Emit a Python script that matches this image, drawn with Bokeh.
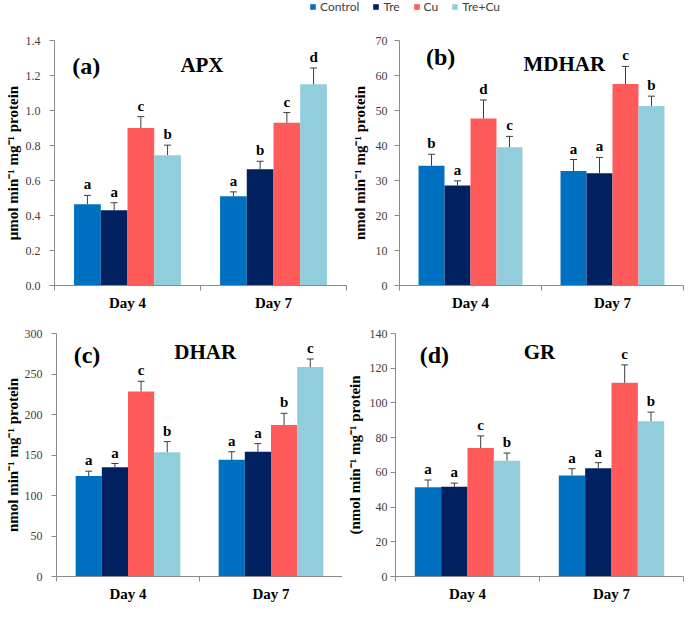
from bokeh.plotting import figure
from bokeh.models import (ColumnDataSource, Range1d, FixedTicker, Whisker, TeeHead,
                          Label, Legend, LegendItem, NumeralTickFormatter)
from bokeh.layouts import column, row
from bokeh.embed import file_html
from bokeh.resources import INLINE
from bokeh.core.properties import value

# ---------------- data ----------------
days = ["Day 4", "Day 7"]
treatments = ["Control", "Tre", "Cu", "Tre+Cu"]
colors = ["#0070C0", "#002060", "#FF5B5B", "#92CDDC"]

apx_mean = {"Control": [0.465, 0.51], "Tre": [0.43, 0.665], "Cu": [0.90, 0.93], "Tre+Cu": [0.745, 1.15]}
apx_err = {"Control": [0.05, 0.025], "Tre": [0.043, 0.045], "Cu": [0.065, 0.058], "Tre+Cu": [0.057, 0.093]}
apx_letters = {"Control": ["a", "a"], "Tre": ["a", "b"], "Cu": ["c", "c"], "Tre+Cu": ["b", "d"]}
apx_ticks = [0.0, 0.2, 0.4, 0.6, 0.8, 1.0, 1.2, 1.4]

mdhar_mean = {"Control": [34.2, 32.7], "Tre": [28.6, 32.1], "Cu": [47.7, 57.6], "Tre+Cu": [39.5, 51.3]}
mdhar_err = {"Control": [3.3, 3.3], "Tre": [1.3, 4.5], "Cu": [5.3, 5.0], "Tre+Cu": [3.1, 2.8]}
mdhar_letters = {"Control": ["b", "a"], "Tre": ["a", "a"], "Cu": ["d", "c"], "Tre+Cu": ["c", "b"]}
mdhar_ticks = [0, 10, 20, 30, 40, 50, 60, 70]

dhar_mean = {"Control": [124, 144], "Tre": [135, 154], "Cu": [228.5, 187], "Tre+Cu": [153.5, 258.5]}
dhar_err = {"Control": [6, 10], "Tre": [4.5, 10], "Cu": [12.5, 14.5], "Tre+Cu": [13, 10]}
dhar_letters = {"Control": ["a", "a"], "Tre": ["a", "a"], "Cu": ["c", "b"], "Tre+Cu": ["b", "c"]}
dhar_ticks = [0, 50, 100, 150, 200, 250, 300]

gr_mean = {"Control": [51.4, 58.2], "Tre": [51.7, 62.4], "Cu": [74.0, 111.6], "Tre+Cu": [66.7, 89.5]}
gr_err = {"Control": [4.2, 3.9], "Tre": [2.1, 3.2], "Cu": [7.0, 10.3], "Tre+Cu": [4.4, 5.2]}
gr_letters = {"Control": ["a", "a"], "Tre": ["a", "a"], "Cu": ["c", "c"], "Tre+Cu": ["b", "b"]}
gr_ticks = [0, 20, 40, 60, 80, 100, 120, 140]

SERIF = "Liberation Serif"
AXIS_COL = "#8a8a8a"
TICK_TXT = "#404040"
BAR_W = 0.183


def make_panel(tag, name, ylabel, means, errs, letters, yticks, fmt,
               width, height, bl, br, bt, bb, tag_pos, name_pos,
               tick_standoff, label_standoff):
    ymax = yticks[-1]
    p = figure(width=width, height=height, x_range=Range1d(0, 2), y_range=Range1d(0, ymax),
               toolbar_location=None, output_backend="svg",
               min_border_left=bl, min_border_right=br, min_border_top=bt, min_border_bottom=bb)
    p.outline_line_color = None
    p.grid.visible = False
    p.background_fill_color = "white"
    p.border_fill_color = "white"

    for ti, (t, c) in enumerate(zip(treatments, colors)):
        xs = [di + 0.5 + (ti - 1.5) * BAR_W for di in range(len(days))]
        tops = means[t]
        ups = [m + e for m, e in zip(means[t], errs[t])]
        src = ColumnDataSource(dict(x=xs, top=tops, upper=ups, letter=letters[t]))
        p.vbar(x="x", top="top", bottom=0, width=BAR_W, source=src, fill_color=c, line_color=None)
        w = Whisker(source=src, base="x", lower="top", upper="upper", dimension="height",
                    line_color="#3c3c3c", line_width=1, level="overlay",
                    upper_head=TeeHead(size=7, line_color="#3c3c3c", line_width=1), lower_head=None)
        p.add_layout(w)
        p.text(x="x", y="upper", text="letter", source=src, text_font=value(SERIF),
               text_font_style="bold", text_font_size="15px", text_align="center",
               text_baseline="bottom", y_offset=-3, text_color="black")

    # x axis: labels at group centres, ticks at group boundaries
    xa = p.xaxis[0]
    xa.ticker = FixedTicker(ticks=[0.5, 1.5], minor_ticks=[0, 1, 2])
    xa.major_label_overrides = {0.5: days[0], 1.5: days[1]}
    xa.major_tick_out = 0
    xa.major_tick_in = 0
    xa.minor_tick_out = 5
    xa.minor_tick_in = 0
    xa.minor_tick_line_color = AXIS_COL
    xa.axis_line_color = AXIS_COL
    xa.major_label_text_font = SERIF
    xa.major_label_text_font_style = "bold"
    xa.major_label_text_font_size = "15px"
    xa.major_label_text_color = "black"
    xa.major_label_standoff = 4

    ya = p.yaxis[0]
    ya.ticker = FixedTicker(ticks=yticks, minor_ticks=[])
    if fmt:
        ya.formatter = NumeralTickFormatter(format=fmt)
    ya.major_tick_out = 5
    ya.major_tick_in = 0
    ya.minor_tick_line_color = None
    ya.major_tick_line_color = AXIS_COL
    ya.axis_line_color = AXIS_COL
    ya.major_label_text_font = SERIF
    ya.major_label_text_font_size = "12px"
    ya.major_label_text_color = TICK_TXT
    ya.major_label_standoff = tick_standoff
    ya.axis_label = ylabel
    ya.axis_label_text_font = SERIF
    ya.axis_label_text_font_style = "bold"
    ya.axis_label_text_font_size = "15px"
    ya.axis_label_text_color = "black"
    ya.axis_label_standoff = label_standoff

    p.add_layout(Label(x=tag_pos[0], y=tag_pos[1] * ymax, text=tag, text_font=SERIF,
                       text_font_style="bold", text_font_size="24px", text_align="center",
                       text_baseline="middle", text_color="black"))
    p.add_layout(Label(x=name_pos[0], y=name_pos[1] * ymax, text=name, text_font=SERIF,
                       text_font_style="bold", text_font_size="21px", text_align="center",
                       text_baseline="middle", text_color="black"))
    return p


LEG_H = 14
ROW1_H = 301   # 26 + 245 + 30
ROW2_H = 291   # 18 + 243 + 30

pa = make_panel("(a)", "APX", "μmol min⁻¹ mg⁻¹ protein", apx_mean, apx_err, apx_letters,
                apx_ticks, "0.0", 347, ROW1_H, 54, 1, 26, 30, (0.218, 0.897), (1.01, 0.90), 9, 2)
pb = make_panel("(b)", "MDHAR", "nmol min⁻¹ mg⁻¹ protein", mdhar_mean, mdhar_err, mdhar_letters,
                mdhar_ticks, None, 337, ROW1_H, 52, 1, 26, 30, (0.29, 0.933), (1.16, 0.905), 7, 5)
pc = make_panel("(c)", "DHAR", "nmol min⁻¹ mg⁻¹ protein", dhar_mean, dhar_err, dhar_letters,
                dhar_ticks, None, 342, ROW2_H, 56, 0, 18, 30, (0.213, 0.913), (1.04, 0.925), 9, 1)
pd_ = make_panel("(d)", "GR", "(nmol min⁻¹ mg⁻¹ protein", gr_mean, gr_err, gr_letters,
                 gr_ticks, None, 342, ROW2_H, 53, 1, 18, 30, (0.27, 0.913), (1.0, 0.925), 3, 4)

# ---------------- legend strip ----------------
lg = figure(width=684, height=LEG_H, x_range=Range1d(0, 1), y_range=Range1d(0, 1),
            toolbar_location=None, output_backend="svg", min_border=0)
lg.axis.visible = False
lg.grid.visible = False
lg.outline_line_color = None
items = []
for t, c in zip(treatments, colors):
    r = lg.vbar(x=[0.5], top=[0], bottom=[0], width=0.0, fill_color=c, line_color=None)
    items.append(LegendItem(label=t, renderers=[r]))
leg = Legend(items=items, orientation="horizontal", location=(309, 0), margin=0, padding=0,
             spacing=13, glyph_width=7, glyph_height=7, label_height=10, label_width=5,
             label_standoff=4,
             label_text_font="Lato", label_text_font_size="12px", label_text_color="#404040",
             border_line_color=None, background_fill_alpha=0)
lg.add_layout(leg)

layout = column(lg, row(pa, pb), row(pc, pd_))
open("out.html", "w").write(file_html(layout, INLINE))
